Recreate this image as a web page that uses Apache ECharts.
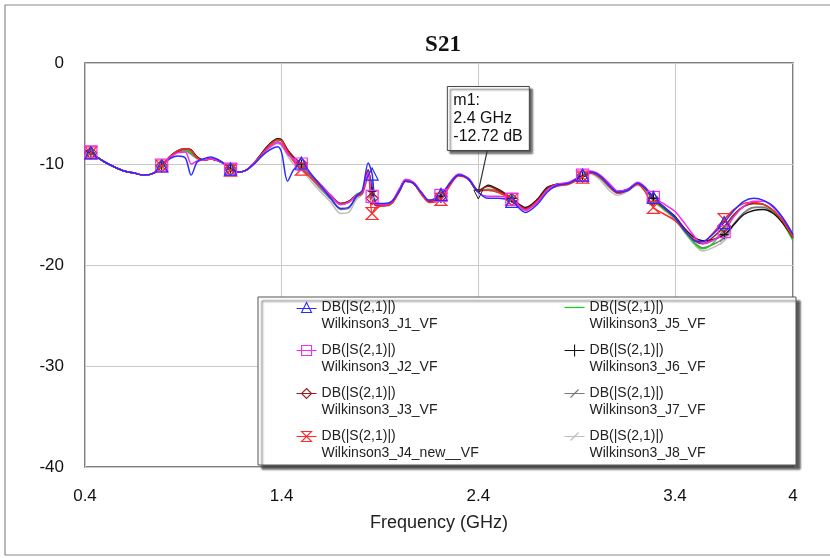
<!DOCTYPE html>
<html>
<head>
<meta charset="utf-8">
<title>S21</title>
<script src="https://cdn.jsdelivr.net/npm/echarts@6/dist/echarts.min.js"></script>
<style>
  html, body { margin: 0; padding: 0; background: #fff; }
  #chart { width: 830px; height: 558px; }
</style>
</head>
<body>
<div id="chart"></div>
<script>
// frequency points (GHz)
var freqs = [0.40, 0.43, 0.46, 0.50, 0.55, 0.60, 0.65, 0.70, 0.75, 0.79,
  0.83, 0.87, 0.91, 0.94, 0.97, 1.00, 1.04, 1.08, 1.11, 1.14,
  1.18, 1.22, 1.26, 1.30, 1.34, 1.38, 1.40, 1.43, 1.46, 1.50,
  1.55, 1.60, 1.65, 1.70, 1.74, 1.78, 1.81, 1.84, 1.86, 1.88,
  1.92, 1.96, 2.00, 2.03, 2.07, 2.11, 2.15, 2.21, 2.26, 2.30,
  2.35, 2.40, 2.45, 2.50, 2.57, 2.64, 2.70, 2.75, 2.80, 2.86,
  2.93, 2.97, 3.02, 3.07, 3.11, 3.16, 3.21, 3.25, 3.29, 3.34,
  3.40, 3.45, 3.50, 3.54, 3.59, 3.65, 3.70, 3.75, 3.80, 3.85,
  3.90, 3.95, 4.00];
// frequencies where the trace symbols are drawn
var markerFreqs = [0.43, 0.79, 1.14, 1.50, 1.86, 2.21, 2.57, 2.93, 3.29, 3.65];

var j1 = [-8.6, -8.9, -9.3, -9.8, -10.3, -10.7, -10.9, -11.1, -10.9, -10.2,
  -9.5, -9.2, -9.4, -11.1, -9.8, -9.5, -9.3, -9.6, -10.0, -10.5,
  -10.8, -10.6, -10.0, -9.2, -8.6, -8.3, -8.9, -11.7, -10.6, -9.9,
  -11.0, -12.2, -13.4, -14.4, -14.3, -13.2, -12.6, -9.9, -11.0, -13.9,
  -13.9, -13.7, -12.6, -11.7, -11.9, -12.8, -13.6, -13.0, -11.8, -11.1,
  -11.5, -12.8, -13.4, -13.4, -13.7, -14.8, -14.0, -12.8, -12.1, -11.9,
  -11.1, -10.8, -11.2, -12.2, -12.8, -12.6, -11.9, -12.4, -13.3, -14.2,
  -15.3, -16.6, -17.6, -17.7, -17.0, -15.8, -14.6, -13.7, -13.4, -13.6,
  -14.2, -15.4, -17.0];
var j2 = [-8.7, -8.8, -9.3, -9.8, -10.3, -10.7, -10.9, -11.1, -10.9, -10.1,
  -9.4, -8.9, -8.8, -10.0, -9.7, -9.6, -9.5, -9.7, -10.0, -10.5,
  -10.8, -10.6, -9.9, -9.1, -8.3, -7.9, -8.1, -9.0, -9.5, -10.0,
  -11.1, -12.1, -13.1, -14.0, -13.8, -13.1, -12.7, -10.8, -13.2, -14.0,
  -14.0, -13.7, -12.4, -11.5, -11.8, -12.8, -13.6, -13.1, -11.7, -11.0,
  -11.4, -12.8, -13.2, -13.2, -13.5, -14.6, -13.8, -12.6, -12.0, -11.8,
  -11.1, -10.7, -11.1, -12.0, -12.7, -12.5, -11.8, -12.3, -13.3, -13.9,
  -14.7, -15.9, -17.2, -17.9, -17.6, -16.7, -15.2, -14.2, -13.7, -13.7,
  -14.3, -15.4, -17.0];
var j3 = [-8.7, -8.9, -9.3, -9.8, -10.3, -10.7, -10.9, -11.1, -10.9, -10.2,
  -9.4, -8.8, -8.5, -8.7, -9.4, -9.6, -9.5, -9.7, -10.0, -10.5,
  -10.8, -10.6, -9.9, -9.0, -8.1, -7.6, -7.7, -8.6, -9.3, -10.0,
  -11.1, -12.1, -13.1, -13.9, -13.7, -13.1, -12.8, -10.6, -13.4, -14.1,
  -14.1, -13.8, -12.5, -11.6, -11.9, -12.9, -13.7, -13.2, -11.8, -11.1,
  -11.5, -12.6, -12.2, -12.6, -13.5, -14.4, -13.6, -12.4, -12.0, -11.9,
  -11.2, -10.8, -11.2, -12.2, -12.8, -12.6, -11.9, -12.4, -13.5, -14.3,
  -15.3, -16.5, -17.6, -17.9, -17.3, -16.2, -15.0, -14.2, -13.9, -14.0,
  -14.6, -15.7, -17.2];
var j4 = [-8.7, -8.9, -9.3, -9.8, -10.3, -10.7, -10.9, -11.1, -10.9, -10.2,
  -9.3, -8.7, -8.5, -8.7, -9.4, -9.6, -9.5, -9.7, -10.0, -10.6,
  -10.8, -10.6, -9.9, -9.0, -8.1, -7.6, -7.7, -8.8, -9.7, -10.5,
  -11.4, -12.3, -13.2, -14.0, -13.8, -13.2, -12.9, -11.0, -14.9, -14.3,
  -14.1, -13.9, -12.7, -11.7, -11.9, -13.0, -13.8, -13.5, -12.0, -11.2,
  -11.5, -12.6, -12.6, -12.8, -13.5, -14.5, -13.7, -12.6, -12.2, -12.0,
  -11.3, -10.9, -11.3, -12.3, -12.9, -12.6, -12.0, -12.8, -14.3, -14.9,
  -15.6, -16.6, -17.5, -17.7, -16.9, -15.5, -14.5, -13.9, -13.8, -14.0,
  -14.6, -15.7, -17.3];
var j5 = [-8.7, -8.9, -9.3, -9.8, -10.3, -10.7, -10.9, -11.1, -10.9, -10.2,
  -9.3, -8.7, -8.6, -8.9, -9.4, -9.6, -9.5, -9.7, -10.0, -10.5,
  -10.8, -10.6, -9.9, -8.9, -8.0, -7.5, -7.7, -8.7, -9.4, -10.1,
  -11.2, -12.2, -13.2, -14.0, -13.8, -13.0, -12.7, -11.2, -11.8, -13.9,
  -14.1, -13.9, -12.6, -11.6, -11.9, -12.9, -13.7, -13.2, -11.8, -11.1,
  -11.5, -12.6, -12.6, -12.8, -13.5, -14.5, -13.7, -12.5, -12.0, -11.9,
  -11.2, -10.8, -11.2, -12.2, -12.8, -12.6, -11.9, -12.5, -13.6, -14.4,
  -15.4, -16.7, -17.9, -18.4, -17.9, -16.4, -15.0, -14.2, -13.9, -14.0,
  -14.7, -15.9, -17.6];
var j6 = [-8.7, -8.9, -9.3, -9.8, -10.3, -10.7, -10.9, -11.1, -10.9, -10.2,
  -9.3, -8.7, -8.5, -8.6, -9.3, -9.6, -9.5, -9.7, -10.0, -10.5,
  -10.8, -10.6, -9.9, -8.9, -8.0, -7.5, -7.6, -8.6, -9.3, -10.0,
  -11.1, -12.1, -13.1, -13.9, -13.7, -13.1, -12.8, -10.6, -12.7, -14.0,
  -14.1, -13.8, -12.5, -11.6, -11.9, -12.9, -13.7, -13.2, -11.8, -11.1,
  -11.5, -12.72, -12.1, -12.5, -13.4, -14.3, -13.5, -12.3, -12.0, -11.9,
  -11.2, -10.8, -11.3, -12.2, -12.7, -12.5, -11.9, -12.4, -13.4, -14.2,
  -15.2, -16.4, -17.3, -17.6, -17.5, -17.0, -16.0, -15.0, -14.6, -14.5,
  -14.9, -15.9, -17.3];
var j7 = [-8.7, -8.9, -9.3, -9.8, -10.3, -10.7, -10.9, -11.1, -10.9, -10.2,
  -9.3, -8.8, -8.7, -9.0, -9.4, -9.6, -9.5, -9.7, -10.0, -10.5,
  -10.8, -10.6, -10.0, -9.1, -8.3, -7.8, -8.0, -8.9, -9.6, -10.3,
  -11.4, -12.5, -13.5, -14.5, -14.4, -13.3, -12.9, -11.0, -13.0, -14.0,
  -14.1, -13.8, -12.6, -11.7, -11.9, -12.9, -13.6, -13.2, -11.8, -11.1,
  -11.5, -12.7, -12.5, -12.7, -13.5, -14.5, -13.7, -12.5, -12.0, -11.9,
  -11.2, -10.9, -11.4, -12.4, -12.9, -12.6, -12.0, -12.5, -13.6, -14.4,
  -15.4, -16.7, -17.8, -18.3, -18.0, -17.3, -15.9, -14.8, -14.3, -14.3,
  -14.8, -15.8, -17.4];
var j8 = [-8.7, -8.9, -9.3, -9.8, -10.3, -10.7, -10.9, -11.1, -10.9, -10.2,
  -9.3, -8.8, -8.8, -9.1, -9.5, -9.6, -9.5, -9.7, -10.0, -10.5,
  -10.8, -10.6, -10.0, -9.2, -8.4, -8.0, -8.2, -9.2, -10.0, -10.6,
  -11.7, -12.8, -13.8, -14.9, -14.8, -13.5, -13.0, -11.5, -13.5, -14.1,
  -14.2, -13.9, -12.6, -11.7, -11.9, -12.9, -13.6, -13.2, -11.8, -11.1,
  -11.5, -12.7, -12.6, -12.8, -13.5, -14.5, -13.7, -12.5, -12.0, -11.9,
  -11.2, -11.0, -11.6, -12.7, -13.1, -12.7, -12.1, -12.6, -13.7, -14.5,
  -15.5, -16.8, -18.0, -18.6, -18.3, -17.6, -16.0, -14.9, -14.3, -14.2,
  -14.6, -15.6, -17.2];

// marker m1
var m1Freq = 2.4;
var m1Db = -12.72;

var xTicks = [0.4, 1.4, 2.4, 3.4, 4];
var yTicks = [0, -10, -20, -30, -40];

var FONT = "'Liberation Sans', Arial, sans-serif";

// trace styles: name, colour, symbol on the curve, legend icon
var traces = [
  { name: "Wilkinson3_J1_VF", data: j1, color: "#2b2bff", symbol: "triangle", size: 12,
    icon: "path://M0,7H20M5,11L10,1L15,11Z" },
  { name: "Wilkinson3_J2_VF", data: j2, color: "#f22cf2", symbol: "rect", size: 12,
    icon: "path://M0,6H20M5,1H15V11H5Z" },
  { name: "Wilkinson3_J3_VF", data: j3, color: "#9e1b1b", symbol: "diamond", size: 12,
    icon: "path://M0,6H20M10,1L15,6L10,11L5,6Z" },
  { name: "Wilkinson3_J4_new__VF", data: j4, color: "#ff2a2a", symbol: "path://M0,0H10L0,10H10Z", size: 12,
    icon: "path://M0,6H20M5,1H15L5,11H15Z" },
  { name: "Wilkinson3_J5_VF", data: j5, color: "#19d419", symbol: "none", size: 0,
    icon: "path://M0,5.4H20V6.6H0Z", filled: true },
  { name: "Wilkinson3_J6_VF", data: j6, color: "#111111", symbol: "path://M5,0V10M0,5H10", size: 9,
    icon: "path://M0,6H20M10,0V12" },
  { name: "Wilkinson3_J7_VF", data: j7, color: "#7a7a7a", symbol: "path://M0,10L10,0", size: 8,
    icon: "path://M0,6H20M6,10L14,2" },
  { name: "Wilkinson3_J8_VF", data: j8, color: "#bdbdbd", symbol: "path://M0,10L10,0", size: 8,
    icon: "path://M0,6H20M6,10L14,2" }
];

var chart = echarts.init(document.getElementById("chart"));

function isMarker(f) {
  return markerFreqs.some(function (m) { return Math.abs(m - f) < 1e-6; });
}

// J1 drawn last so it sits on top, like the original
var drawOrder = [7, 6, 4, 5, 2, 3, 1, 0];
var series = drawOrder.map(function (k) {
  var t = traces[k];
  var s = {
    name: t.name,
    type: "line",
    smooth: 0.3,
    showSymbol: t.symbol !== "none",
    showAllSymbol: true,
    symbol: function (v) { return isMarker(v[0]) ? t.symbol : "none"; },
    symbolSize: t.size,
    data: freqs.map(function (f, i) { return [f, t.data[i]]; }),
    lineStyle: { color: t.color, width: 1.5 },
    itemStyle: { color: "rgba(0,0,0,0)", borderColor: t.color, borderWidth: 1.2 },
    emphasis: { disabled: true },
    z: 2
  };
  if (k === 5) {
    s.markPoint = {
      symbol: "triangle",
      symbolRotate: 180,
      symbolSize: 9,
      symbolOffset: [0, 3],
      itemStyle: { color: "rgba(0,0,0,0)", borderColor: "#222", borderWidth: 1 },
      label: { show: false },
      data: [{ coord: [m1Freq, m1Db] }]
    };
  }
  return s;
});

function legendData(list) {
  return list.map(function (k) {
    var t = traces[k];
    return {
      name: t.name,
      icon: t.icon,
      itemStyle: t.filled
        ? { color: t.color, borderWidth: 0 }
        : { color: "rgba(0,0,0,0)", borderColor: t.color, borderWidth: 1.1 }
    };
  });
}

function makeLegend(left, list) {
  return {
    orient: "vertical",
    left: left,
    top: 282,
    padding: 0,
    itemWidth: 20,
    itemHeight: 12,
    itemGap: -8,
    selectedMode: false,
    z: 10,
    formatter: function (n) { return "\nDB(|S(2,1)|)\n" + n; },
    textStyle: { fontFamily: FONT, fontSize: 14, lineHeight: 17, color: "#222" },
    data: legendData(list)
  };
}

chart.setOption({
  animation: false,
  backgroundColor: "#ffffff",
  title: {
    text: "S21",
    left: 438,
    top: 29,
    textAlign: "center",
    textStyle: { fontFamily: "'Liberation Serif', 'Times New Roman', serif", fontWeight: "bold", fontSize: 23, color: "#111" }
  },
  grid: {
    left: 85, right: 37, top: 63, bottom: 91,
    show: true, borderColor: "#555", borderWidth: 1.5, backgroundColor: "transparent"
  },
  legend: [makeLegend(296, [0, 1, 2, 3]), makeLegend(564, [4, 5, 6, 7])],
  xAxis: {
    type: "value",
    min: xTicks[0],
    max: xTicks[xTicks.length - 1],
    interval: 1,
    name: "Frequency (GHz)",
    nameLocation: "middle",
    nameGap: 47,
    nameTextStyle: { fontFamily: FONT, fontSize: 18, color: "#222" },
    axisLine: { show: false },
    axisTick: { show: false },
    axisLabel: {
      margin: 21,
      fontFamily: FONT, fontSize: 17, color: "#111",
      formatter: function (v) { return String(+v.toFixed(1)); }
    },
    splitLine: { show: true, lineStyle: { color: "#c9c9c9", width: 1 } }
  },
  yAxis: {
    type: "value",
    min: yTicks[yTicks.length - 1],
    max: yTicks[0],
    interval: 10,
    axisLine: { show: false },
    axisTick: { show: false },
    axisLabel: { margin: 21, fontFamily: FONT, fontSize: 17, color: "#111" },
    splitLine: { show: true, lineStyle: { color: "#c9c9c9", width: 1 } }
  },
  series: series
});

// annotation box for m1, placed from the point's pixel position
var p = chart.convertToPixel({ gridIndex: 0 }, [m1Freq, m1Db]);
chart.setOption({
  graphic: [
    {
      type: "rect", silent: true, z: 0,
      shape: { x: 5, y: 5, width: 840, height: 550 },
      style: { fill: "none", stroke: "#8a8a8a", lineWidth: 1.2 }
    },
    {
      type: "rect", silent: true, z: 5,
      shape: { x: 258, y: 297, width: 538, height: 168 },
      style: {
        fill: "#fff", stroke: "#555", lineWidth: 1,
        shadowColor: "rgba(60,60,60,0.85)", shadowOffsetX: 4, shadowOffsetY: 4, shadowBlur: 2
      }
    },
    {
      type: "line", silent: true, z: 6,
      shape: { x1: p[0], y1: p[1], x2: p[0] + 9, y2: p[1] - 41 },
      style: { stroke: "#333", lineWidth: 1.2 }
    },
    {
      type: "rect", silent: true, z: 6,
      shape: { x: p[0] - 31, y: p[1] - 105, width: 82, height: 64 },
      style: {
        fill: "#fff", stroke: "#444", lineWidth: 1,
        shadowColor: "rgba(60,60,60,0.85)", shadowOffsetX: 3, shadowOffsetY: 3, shadowBlur: 2
      }
    },
    {
      type: "text", silent: true, z: 7,
      x: p[0] - 25, y: p[1] - 100,
      style: {
        text: "m1:\n" + m1Freq + " GHz\n" + m1Db + " dB",
        fontFamily: FONT, fontSize: 16, lineHeight: 18, fill: "#111"
      }
    }
  ]
});
</script>
</body>
</html>
